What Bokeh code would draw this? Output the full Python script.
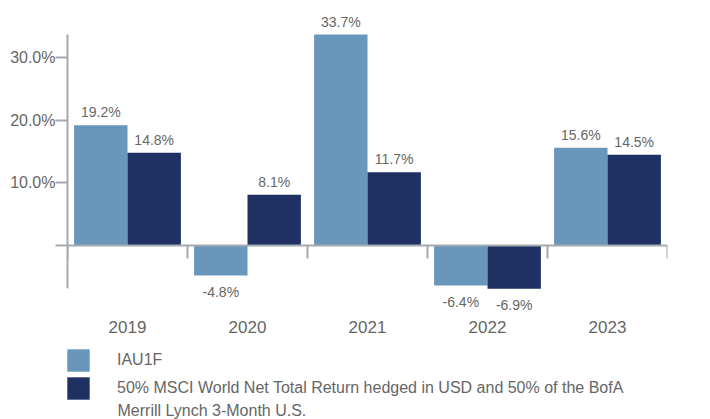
import numpy as np
from bokeh.plotting import figure
from bokeh.layouts import column
from bokeh.models import (Range1d, FixedTicker, LinearAxis, ColumnDataSource,
                          Legend, LegendItem, PrintfTickFormatter, Label)
from bokeh.transform import dodge
from bokeh.core.properties import value
from bokeh.embed import file_html
from bokeh.resources import INLINE

# ---- data ----
years = ["2019", "2020", "2021", "2022", "2023"]
iau1f = [19.2, -4.8, 33.7, -6.4, 15.6]
benchmark = [14.8, 8.1, 11.7, -6.9, 14.5]
series_names = [
    "IAU1F",
    "50% MSCI World Net Total Return hedged in USD and 50% of the BofA",
]
series_name_cont = "Merrill Lynch 3-Month U.S."
y_ticks = [0, 10, 20, 30]

# ---- style ----
FONT = "Liberation Sans"
LIGHT = "#6897bb"
DARK = "#1f3162"
AXIS = "#a3abb0"
TEXT = "#666666"
BAR_W = 0.445


def lab(vals):
    return [f"{v:.1f}%" for v in vals]


def base(vals):
    return ["bottom" if v >= 0 else "top" for v in vals]


def off(vals):
    return [-5 if v >= 0 else 8 for v in vals]


x = np.arange(len(years)) + 0.5
src = ColumnDataSource(dict(
    x=x, a=iau1f, b=benchmark,
    a_lab=lab(iau1f), b_lab=lab(benchmark),
    a_base=base(iau1f), b_base=base(benchmark),
    a_off=off(iau1f), b_off=off(benchmark),
))

allv = iau1f + benchmark
p = figure(width=710, height=340,
           x_range=Range1d(0, len(years)), y_range=Range1d(-10.38, 38.5),
           output_backend="svg", toolbar_location=None,
           min_border_left=67, min_border_right=43, min_border_top=4,
           min_border_bottom=30)
p.outline_line_color = None
p.grid.visible = False
p.background_fill_color = "white"

ra = p.vbar(x=dodge("x", -BAR_W / 2, range=p.x_range), top="a", bottom=0,
            width=BAR_W, source=src, fill_color=LIGHT, line_color=None)
rb = p.vbar(x=dodge("x", BAR_W / 2, range=p.x_range), top="b", bottom=0,
            width=BAR_W, source=src, fill_color=DARK, line_color=None)

p.text(x=dodge("x", -BAR_W / 2, range=p.x_range), y="a", text="a_lab",
       source=src, text_align="center", text_baseline="a_base", y_offset="a_off",
       text_font=value(FONT), text_font_size="14px", text_color=TEXT)
p.text(x=dodge("x", BAR_W / 2, range=p.x_range), y="b", text="b_lab",
       source=src, text_align="center", text_baseline="b_base", y_offset="b_off",
       text_font=value(FONT), text_font_size="14px", text_color=TEXT)

# y axis
ya = p.yaxis[0]
ya.ticker = FixedTicker(ticks=y_ticks)
ya.formatter = PrintfTickFormatter(format="%.1f%%")
ya.major_label_overrides = {0: ""}
ya.bounds = (min(allv), max(allv))
ya.axis_line_color = AXIS
ya.axis_line_width = 2
ya.major_tick_line_color = AXIS
ya.major_tick_line_width = 2
ya.major_tick_out = 12
ya.major_tick_in = 0
ya.minor_tick_line_color = None
ya.major_label_standoff = 0
ya.major_label_text_font = FONT
ya.major_label_text_font_size = "16px"
ya.major_label_text_color = TEXT

# year labels axis
xa = p.xaxis[0]
xa.ticker = FixedTicker(ticks=list(x))
xa.major_label_overrides = {float(xi): y for xi, y in zip(x, years)}
xa.axis_line_color = None
xa.major_tick_line_color = None
xa.minor_tick_line_color = None
xa.major_label_standoff = 4
xa.major_label_text_font = FONT
xa.major_label_text_font_size = "17px"
xa.major_label_text_color = TEXT

# zero line axis with category boundary ticks
bounds_ticks = list(range(len(years) + 1))
za = LinearAxis(fixed_location=0,
                ticker=FixedTicker(ticks=bounds_ticks),
                major_label_overrides={t: "" for t in bounds_ticks},
                major_tick_out=13, major_tick_in=0,
                axis_line_color=AXIS, axis_line_width=2,
                major_tick_line_color=AXIS, major_tick_line_width=2,
                minor_tick_line_color=None, major_label_standoff=0)
p.add_layout(za, "below")

# ---- legend figure (its bars lie outside its view; only the legend shows) ----
p2 = figure(width=710, height=79, x_range=Range1d(0, len(years)),
            y_range=Range1d(100, 101),
            output_backend="svg", toolbar_location=None,
            x_axis_type=None, y_axis_type=None,
            min_border_left=0, min_border_right=0, min_border_top=0,
            min_border_bottom=0)
p2.outline_line_color = None
p2.grid.visible = False
la = p2.vbar(x="x", top="a", width=BAR_W, source=src, fill_color=LIGHT, line_color=None)
lb = p2.vbar(x="x", top="b", width=BAR_W, source=src, fill_color=DARK, line_color=None)

legend = Legend(items=[LegendItem(label=series_names[0], renderers=[la]),
                       LegendItem(label=series_names[1], renderers=[lb])],
                location=(-3, 17), orientation="vertical",
                glyph_width=28, glyph_height=28, label_standoff=25,
                label_height=28,
                spacing=0, padding=0, margin=0,
                border_line_color=None, background_fill_alpha=0,
                label_text_font=FONT, label_text_font_size="16px",
                label_text_color=TEXT)
p2.add_layout(legend, "center")
p2.add_layout(Label(x=50, y=9, x_units="screen", y_units="screen",
                    text=series_name_cont, text_baseline="middle",
                    text_font=FONT, text_font_size="16px", text_color=TEXT))

open("out.html", "w").write(file_html(column(p, p2, spacing=0), INLINE))
